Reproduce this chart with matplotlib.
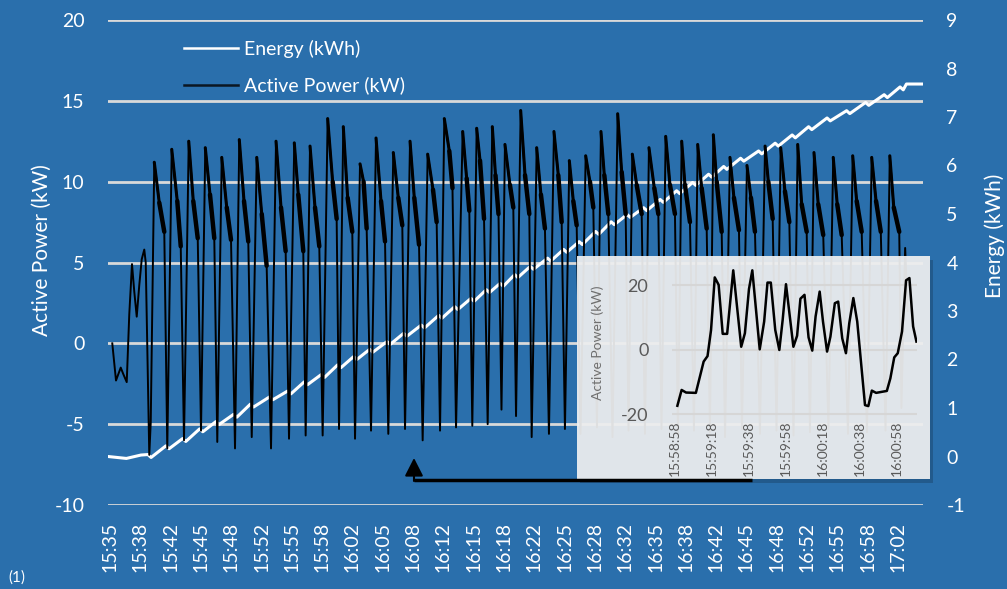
import matplotlib
matplotlib.use("Agg")
import matplotlib.pyplot as plt
from matplotlib.lines import Line2D
from matplotlib.patches import Rectangle, FancyArrowPatch
from matplotlib.collections import LineCollection

# ---------------------------------------------------------------- data
# time axis in minutes after 15:35:00
x_tick_labels = ["15:35", "15:38", "15:42", "15:45", "15:48", "15:52", "15:55",
                 "15:58", "16:02", "16:05", "16:08", "16:12", "16:15", "16:18",
                 "16:22", "16:25", "16:28", "16:32", "16:35", "16:38", "16:42",
                 "16:45", "16:48", "16:52", "16:55", "16:58", "17:02"]

# start-up phase before the regular cycling
lead_t = [0.25, 0.66, 1.18, 1.46, 1.84, 2.12, 2.42, 2.67, 2.94, 3.22, 3.49,
          3.77, 3.93, 4.32, 4.48]
lead_kw = [0.0, -2.3, -1.5, -1.9, -2.4, 1.8, 4.9, 3.2, 1.65, 3.6, 5.2,
           5.8, 5.0, -6.9, -4.9]

# one entry per compressor cycle: peak, shoulder, end of plateau, trough
peak_t = [4.87, 6.79, 8.66, 10.48, 12.29, 14.22, 16.14, 18.26, 20.27, 22.00,
          23.94, 25.66, 27.50, 29.26, 31.16, 33.00, 34.94, 36.77, 38.79, 40.33,
          42.05, 43.44, 45.17, 46.93, 48.83, 50.52, 52.32, 54.00, 55.84, 57.45,
          59.28, 61.12, 62.88, 64.64, 66.36, 68.19, 70.06, 72.05, 73.77, 75.64,
          77.43, 79.55, 81.69, 83.78, 85.77]
peak_kw = [11.2, 12.0, 12.5, 12.1, 11.5, 12.6, 11.5, 12.5, 12.4, 12.2,
           13.9, 13.4, 11.1, 12.7, 11.8, 12.5, 11.7, 13.9, 13.1, 13.3,
           13.4, 12.3, 14.4, 12.1, 13.1, 11.3, 11.6, 13.1, 14.2, 11.7,
           12.1, 12.8, 12.5, 12.3, 12.9, 11.5, 11.0, 12.2, 12.1, 12.3,
           11.8, 11.5, 11.6, 11.5, 11.6]
mid_t = [5.42, 7.40, 9.16, 11.00, 12.84, 14.74, 16.69, 18.81, 20.71, 22.55,
         24.49, 26.14, 27.89, 29.81, 31.71, 33.47, 35.53, 37.32, 39.23, 40.70,
         42.40, 43.99, 45.65, 47.40, 49.31, 50.96, 52.79, 54.37, 56.28, 57.93,
         59.87, 61.59, 63.24, 65.08, 66.73, 68.63, 70.50, 72.41, 74.24, 76.08,
         77.90, 79.99, 82.13, 84.26, 86.21]
mid_kw = [8.7, 8.8, 8.8, 9.2, 8.4, 8.8, 8.0, 8.4, 9.2, 8.4,
          10.0, 9.0, 10.0, 8.8, 9.0, 9.0, 9.5, 11.9, 10.2, 11.3,
          10.4, 9.8, 10.4, 9.2, 10.4, 8.8, 10.0, 10.4, 10.6, 9.8,
          9.6, 9.8, 9.8, 9.6, 10.0, 9.0, 9.0, 10.0, 9.4, 8.6,
          8.6, 8.6, 8.8, 8.8, 8.4]
low_t = [5.97, 7.78, 9.65, 11.47, 13.31, 15.21, 17.23, 19.32, 21.26, 23.02,
         24.93, 26.65, 28.23, 30.25, 32.15, 33.99, 35.93, 37.67, 39.52, 41.14,
         42.73, 44.36, 46.12, 47.84, 49.68, 51.33, 53.16, 54.81, 56.72, 58.48,
         60.31, 62.14, 63.79, 65.63, 67.28, 69.18, 70.94, 72.89, 74.72, 76.63,
         78.45, 80.48, 82.68, 84.78, 86.81]
low_kw = [6.9, 6.0, 6.5, 6.5, 6.4, 6.3, 4.8, 5.7, 5.7, 6.0,
          7.7, 6.9, 7.1, 6.3, 7.3, 6.1, 7.5, 9.6, 8.2, 7.7,
          8.0, 8.4, 8.0, 7.1, 7.5, 7.3, 8.4, 8.0, 8.0, 8.0,
          8.0, 8.0, 7.5, 7.1, 6.9, 7.0, 6.9, 7.7, 7.5, 6.9,
          6.7, 6.7, 6.9, 6.9, 6.9]
trough_t = [6.30, 8.14, 10.01, 11.80, 13.75, 15.59, 17.71, 19.69, 21.52, 23.39,
            25.19, 26.95, 28.71, 30.61, 32.45, 34.39, 36.30, 38.06, 39.85, 41.54,
            43.06, 44.66, 46.38, 48.28, 50.04, 51.75, 53.56, 55.27, 57.03, 58.84,
            60.66, 62.47, 64.23, 65.99, 67.65, 69.51, 71.49, 73.31, 75.18, 76.99,
            79.02, 81.17, 83.26, 85.30, 87.05]
trough_kw = [-6.5, -6.0, -5.4, -6.1, -6.5, -5.8, -6.5, -5.9, -5.7, -5.7,
             -5.3, -5.9, -5.4, -5.6, -5.3, -6.0, -5.4, -5.2, -5.1, -5.0,
             -4.1, -4.5, -5.8, -5.6, -5.3, -5.6, -5.2, -5.8, -5.4, -5.6,
             -5.3, -5.7, -5.4, -5.5, -5.8, -5.3, -5.6, -5.4, -5.7, -5.5,
             -5.3, -5.6, -5.5, -5.4, -4.0]

tail_t = [87.46, 87.73]
tail_kw = [5.9, 2.0]

# energy counter: value just before each negative swing and right after it
notch_t = [4.32] + trough_t
energy_hi = [0.04, 0.22, 0.37, 0.57, 0.72, 0.87, 1.08, 1.23, 1.35, 1.54,
             1.69, 1.89, 2.06, 2.21, 2.37, 2.54, 2.71, 2.91, 3.09, 3.26,
             3.44, 3.57, 3.75, 3.92, 4.09, 4.27, 4.43, 4.64, 4.84, 4.99,
             5.13, 5.30, 5.48, 5.65, 5.82, 5.98, 6.15, 6.30, 6.46, 6.63,
             6.80, 6.98, 7.13, 7.30, 7.46, 7.62]
energy_lo = [-0.02, 0.16, 0.31, 0.51, 0.66, 0.81, 1.02, 1.17, 1.29, 1.48,
             1.63, 1.83, 2.00, 2.15, 2.31, 2.48, 2.65, 2.85, 3.03, 3.20,
             3.38, 3.51, 3.69, 3.86, 4.03, 4.21, 4.37, 4.58, 4.78, 4.93,
             5.07, 5.24, 5.42, 5.59, 5.76, 5.92, 6.09, 6.24, 6.40, 6.57,
             6.74, 6.92, 7.07, 7.24, 7.40, 7.56]
energy_lead_t = [-0.22, 1.8, 3.4]
energy_lead_kwh = [0.0, -0.04, 0.03]
energy_tail_t = [87.6, 89.39]
energy_tail_kwh = [7.68, 7.68]

# zoomed detail, seconds after 15:58:58
inset_tick_labels = ["15:58:58", "15:59:18", "15:59:38", "15:59:58",
                     "16:00:18", "16:00:38", "16:00:58"]
inset_s = [1.3, 3.6, 6.0, 11.3, 15.5, 17.6, 19.5, 21.5, 23.6, 25.8, 28.2, 31.5,
           35.8, 37.8, 40.0, 41.8, 45.8, 48.2, 50.0, 51.8, 54.2, 56.4, 58.2,
           60.0, 64.0, 66.0, 67.8, 70.0, 72.2, 74.2, 76.0, 78.2, 80.0, 82.2,
           84.0, 86.4, 88.2, 90.4, 92.4, 94.2, 96.4, 98.5, 102.7, 104.5, 106.4,
           108.7, 114.5, 116.4, 118.5, 120.4, 122.7, 124.9, 126.7, 128.7, 130.5]
inset_kw = [-17.3, -12.4, -13.2, -13.3, -3.6, -1.9, 6.2, 22.5, 20.2, 5.0, 5.0,
            24.7, 1.0, 5.2, 18.9, 24.7, 0.2, 8.8, 20.9, 20.9, 6.2, 0.0, 9.3,
            20.4, 1.0, 4.4, 15.9, 17.1, 3.9, -0.2, 10.4, 18.1, 8.8, -0.5,
            4.1, 14.5, 15.0, 3.6, -1.0, 8.3, 16.1, 8.8, -17.1, -17.4, -12.6,
            -13.3, -12.7, -8.8, -2.3, -1.0, 5.7, 21.6, 22.3, 7.3, 2.6]

# ---------------------------------------------------------------- series
power_t, power_kw = list(lead_t), list(lead_kw)
for i in range(len(peak_t)):
    power_t += [peak_t[i], mid_t[i], low_t[i], trough_t[i]]
    power_kw += [peak_kw[i], mid_kw[i], low_kw[i], trough_kw[i]]
power_t += tail_t
power_kw += tail_kw

# the noisy plateau of each cycle, drawn as a heavier stroke
plateaus = [[(m, mk), (l, lk)]
            for m, mk, l, lk in zip(mid_t, mid_kw, low_t, low_kw)]
plateaus += [[(p, pk), (m, mk)]
             for p, pk, m, mk in zip(peak_t, peak_kw, mid_t, mid_kw)]

energy_t, energy_kwh = list(energy_lead_t), list(energy_lead_kwh)
for t, hi, lo in zip(notch_t, energy_hi, energy_lo):
    energy_t += [t - 0.15, t + 0.2]
    energy_kwh += [hi, lo]
energy_t += energy_tail_t
energy_kwh += energy_tail_kwh

# ---------------------------------------------------------------- figure
W, H = 1007, 589
BG = "#2a6fac"
plt.rcParams["font.family"] = ["Lato", "DejaVu Sans"]
plt.rcParams["axes.unicode_minus"] = False
fig = plt.figure(figsize=(W / 100, H / 100), dpi=100)
fig.patch.set_facecolor(BG)


def fx(px):
    return px / W


def fy(py):
    return 1 - py / H


def rect(x0, y0, x1, y1):
    return [fx(x0), fy(y1), fx(x1) - fx(x0), fy(y0) - fy(y1)]


ax = fig.add_axes(rect(108, 20, 922.7, 505))
ax.set_facecolor("none")
ax.set_xlim(-0.22, 89.39)
ax.set_ylim(-10, 20)
ax.set_yticks(range(-10, 21, 5))
ax.set_xticks([k * 10 / 3 for k in range(len(x_tick_labels))])
ax.set_xticklabels(x_tick_labels, rotation=90)
ax.grid(axis="y", color="#d9d9d9", lw=2)
ax.grid(axis="x", visible=False)
ax.set_axisbelow(True)
ax.tick_params(axis="both", length=0, colors="white", labelsize=14)
ax.tick_params(axis="y", pad=17)
ax.tick_params(axis="x", pad=12)
for s in ax.spines.values():
    s.set_visible(False)

axe = ax.twinx()
axe.set_ylim(-1, 9)
axe.set_yticks(range(-1, 10))
axe.tick_params(axis="y", length=0, colors="white", labelsize=14, pad=17)
for s in axe.spines.values():
    s.set_visible(False)
axe.plot(energy_t, energy_kwh, color="white", lw=2.2, solid_joinstyle="round")

axp = ax.twinx()
axp.set_ylim(-10, 20)
axp.axis("off")
axp.plot(power_t, power_kw, color="black", lw=1.4)
axp.add_collection(LineCollection(plateaus[:len(mid_t)], colors="black",
                                  linewidths=3.2, capstyle="round"))
axp.add_collection(LineCollection(plateaus[len(mid_t):], colors="black",
                                  linewidths=2.2, capstyle="round"))

fig.text(fx(42), fy(250), "Active Power (kW)", rotation=90, color="white",
         fontsize=15, ha="center", va="center")
fig.text(fx(995), fy(236), "Energy (kWh)", rotation=90, color="white",
         fontsize=15, ha="center", va="center")
fig.text(fx(8), fy(578), "(1)", color="white", fontsize=11, ha="left",
         va="center")

handles = [Line2D([], [], color="white", lw=1.8),
           Line2D([], [], color="#0b1622", lw=1.8)]
fig.legend(handles, ["Energy (kWh)", "Active Power (kW)"], loc="upper left",
           bbox_to_anchor=(fx(184), fy(40)), frameon=False, fontsize=14,
           handlelength=2.8, handletextpad=0.3, labelspacing=0.95,
           borderpad=0, borderaxespad=0, labelcolor="white")

# ---------------------------------------------------------------- inset
fig.add_artist(Rectangle((fx(580), fy(483)), fx(930) - fx(577),
                         fy(256) - fy(479), transform=fig.transFigure,
                         facecolor="black", alpha=0.18, edgecolor="none",
                         zorder=4))
fig.add_artist(Rectangle((fx(577), fy(479)), fx(930) - fx(577),
                         fy(256) - fy(479), transform=fig.transFigure,
                         facecolor="#f0f1f2", alpha=0.93, edgecolor="none",
                         zorder=5))

axi = fig.add_axes(rect(672, 262.9, 917, 417.7))
axi.set_zorder(6)
axi.patch.set_visible(False)
axi.set_xlim(-1.6, 130.8)
axi.set_ylim(-21, 27)
axi.set_yticks([-20, 0, 20])
axi.set_xticks(range(0, 121, 20))
axi.set_xticklabels(inset_tick_labels, rotation=90)
axi.grid(axis="y", color="#d6d6d6", lw=1.5)
axi.grid(axis="x", visible=False)
axi.set_axisbelow(True)
axi.tick_params(axis="both", length=0, colors="#595959")
axi.tick_params(axis="y", labelsize=13, pad=17)
axi.tick_params(axis="x", labelsize=10, pad=2)
for s in axi.spines.values():
    s.set_visible(False)
axi.plot(inset_s, inset_kw, color="black", lw=1.8)
fig.text(fx(598), fy(343), "Active Power (kW)", rotation=90, color="#6f6f6f",
         fontsize=10, ha="center", va="center", zorder=7)

# pointer from the main trace to the detail view
fig.add_artist(Line2D([fx(414), fx(752)], [fy(480), fy(480)], color="black",
                      lw=2.5, transform=fig.transFigure, zorder=8,
                      solid_capstyle="butt"))
fig.add_artist(FancyArrowPatch((fx(414), fy(481)), (fx(414), fy(458)),
                               transform=fig.transFigure,
                               arrowstyle="-|>,head_length=0.55,head_width=0.28",
                               mutation_scale=20, color="black", lw=1.5,
                               shrinkA=0, shrinkB=0, zorder=8))

fig.savefig("out.png", dpi=100, facecolor=BG)
